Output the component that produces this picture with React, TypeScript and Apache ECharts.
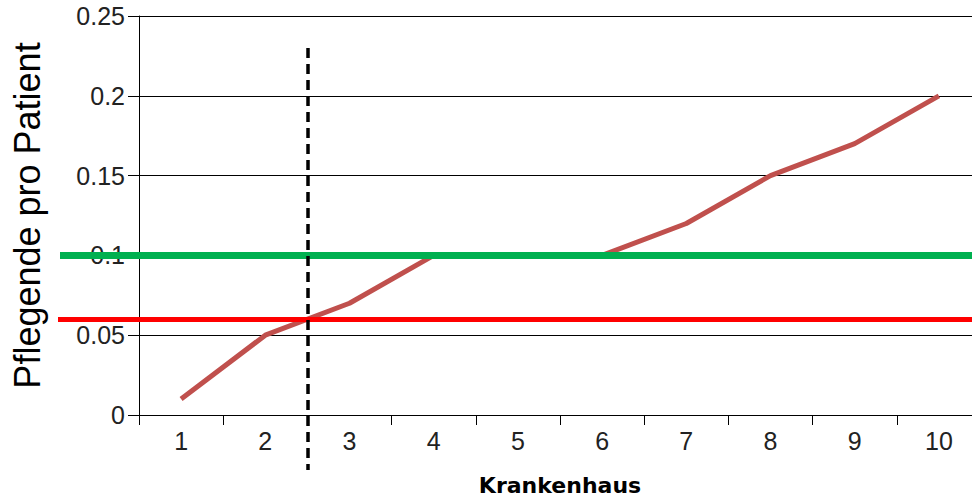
import React, { useEffect, useRef } from "react";
import * as echarts from "echarts";

const categories = ["1", "2", "3", "4", "5", "6", "7", "8", "9", "10"];
const nursesPerPatient = [0.01, 0.05, 0.07, 0.1, 0.1, 0.1, 0.12, 0.15, 0.17, 0.2];
const greenLevel = 0.1;
const redLevel = 0.06;
const cutoffHospital = 2.5;
const yTicks = { min: 0, max: 0.25, interval: 0.05 };

export default function App() {
  const ref = useRef<HTMLDivElement>(null);
  useEffect(() => {
    if (!ref.current) return;
    const chart = echarts.init(ref.current, undefined, { renderer: "svg" });
    const labelFont = "'Liberation Sans', Arial, sans-serif";
    chart.setOption({
      animation: false,
      backgroundColor: "#ffffff",
      grid: { left: 139, right: -9, top: 16, bottom: 87, containLabel: false, outerBoundsMode: "none" },
      xAxis: [
        {
          type: "category",
          data: categories,
          boundaryGap: true,
          axisLine: { show: true, lineStyle: { color: "#000", width: 1 } },
          axisTick: { show: true, length: 10, lineStyle: { color: "#000", width: 1 } },
          axisLabel: { fontSize: 25, fontFamily: labelFont, color: "#222", margin: 13, interval: 0 },
          splitLine: { show: false },
          name: "Krankenhaus",
          nameLocation: "middle",
          nameGap: 59,
          nameTextStyle: { fontSize: 22, fontWeight: "bold", fontFamily: "'DejaVu Sans', sans-serif", color: "#000" },
        },
        {
          type: "value",
          min: 0.5,
          max: 10.5,
          show: false,
        },
      ],
      yAxis: {
        type: "value",
        min: yTicks.min,
        max: yTicks.max,
        interval: yTicks.interval,
        axisLine: { show: true, lineStyle: { color: "#000", width: 1 } },
        axisTick: { show: true, length: 11, lineStyle: { color: "#000", width: 1 } },
        axisLabel: { fontSize: 25, fontFamily: labelFont, color: "#222", margin: 14 },
        splitLine: { show: true, lineStyle: { color: "#000", width: 1 } },
        name: "Pflegende pro Patient",
        nameLocation: "middle",
        nameGap: 94,
        nameTextStyle: { fontSize: 36, fontFamily: labelFont, color: "#000" },
      },
      series: [
        {
          type: "line",
          data: nursesPerPatient,
          symbol: "none",
          lineStyle: { color: "#c0504d", width: 5 },
          itemStyle: { color: "#c0504d" },
          z: 2,
        },
        {
          type: "line",
          xAxisIndex: 1,
          data: [],
          symbol: "none",
          clip: false,
          markLine: {
            silent: true,
            symbol: ["none", "none"],
            label: { show: false },
            emphasis: { disabled: true },
            data: [
              [
                { x: 60, yAxis: greenLevel, lineStyle: { color: "#00b050", width: 7, type: "solid" } },
                { x: 972, yAxis: greenLevel },
              ],
              [
                { x: 58, yAxis: redLevel, lineStyle: { color: "#ff0000", width: 5, type: "solid" } },
                { x: 972, yAxis: redLevel },
              ],
              [
                { xAxis: cutoffHospital, yAxis: 0.23, lineStyle: { color: "#000", width: 3.5, type: [10, 6] } },
                { xAxis: cutoffHospital, y: 470 },
              ],
            ],
          },
        },
      ],
    });
    return () => chart.dispose();
  }, []);
  return (
    <div
      ref={ref}
      style={{ position: "absolute", left: 0, top: 0, width: 972, height: 502, background: "#fff" }}
    />
  );
}
